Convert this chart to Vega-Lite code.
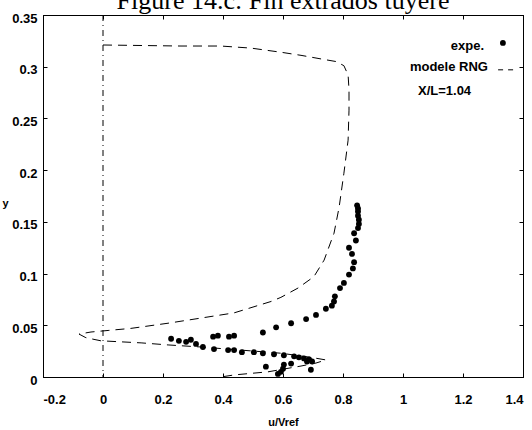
{
  "$schema": "https://vega.github.io/schema/vega-lite/v6.json",
  "width": 480,
  "height": 362,
  "autosize": "none",
  "padding": {"left": 43, "top": 15, "right": 9, "bottom": 53},
  "background": "white",
  "title": {"text": "Figure 14.c: Fin extrados tuyere", "font": "Liberation Serif", "fontSize": 26, "fontWeight": "normal", "color": "black", "anchor": "middle", "frame": "group", "baseline": "alphabetic", "offset": 0, "dy": 23},
  "config": {
    "view": {"stroke": "black", "strokeWidth": 1},
    "axis": {"grid": false, "domainColor": "black", "tickColor": "black", "labelColor": "black", "titleColor": "black", "labelFont": "Liberation Sans", "labelFontWeight": "bold", "labelFontSize": 13, "titleFont": "Liberation Sans", "titleFontWeight": "bold", "titleFontSize": 11}
  },
  "datasets": {
    "expe": [
      {"u": 0.847, "y": 0.166}, {"u": 0.85, "y": 0.163}, {"u": 0.85, "y": 0.160}, {"u": 0.85, "y": 0.156},
      {"u": 0.853, "y": 0.152}, {"u": 0.853, "y": 0.148}, {"u": 0.85, "y": 0.144}, {"u": 0.837, "y": 0.139},
      {"u": 0.843, "y": 0.132}, {"u": 0.82, "y": 0.125}, {"u": 0.83, "y": 0.119}, {"u": 0.837, "y": 0.111},
      {"u": 0.833, "y": 0.105}, {"u": 0.82, "y": 0.099}, {"u": 0.803, "y": 0.091}, {"u": 0.79, "y": 0.086},
      {"u": 0.773, "y": 0.078}, {"u": 0.77, "y": 0.073}, {"u": 0.763, "y": 0.069}, {"u": 0.743, "y": 0.066},
      {"u": 0.71, "y": 0.060}, {"u": 0.677, "y": 0.056}, {"u": 0.627, "y": 0.052}, {"u": 0.577, "y": 0.048},
      {"u": 0.533, "y": 0.043}, {"u": 0.367, "y": 0.039}, {"u": 0.383, "y": 0.040}, {"u": 0.42, "y": 0.039},
      {"u": 0.437, "y": 0.040}, {"u": 0.227, "y": 0.037}, {"u": 0.253, "y": 0.035}, {"u": 0.277, "y": 0.034},
      {"u": 0.293, "y": 0.036}, {"u": 0.31, "y": 0.032}, {"u": 0.333, "y": 0.029}, {"u": 0.37, "y": 0.027},
      {"u": 0.417, "y": 0.026}, {"u": 0.437, "y": 0.026}, {"u": 0.463, "y": 0.024}, {"u": 0.503, "y": 0.024},
      {"u": 0.533, "y": 0.023}, {"u": 0.57, "y": 0.022}, {"u": 0.603, "y": 0.021}, {"u": 0.637, "y": 0.020},
      {"u": 0.653, "y": 0.019}, {"u": 0.67, "y": 0.018}, {"u": 0.687, "y": 0.017}, {"u": 0.697, "y": 0.015},
      {"u": 0.68, "y": 0.015}, {"u": 0.543, "y": 0.010}, {"u": 0.603, "y": 0.012}, {"u": 0.627, "y": 0.013},
      {"u": 0.693, "y": 0.007}, {"u": 0.593, "y": 0.005}, {"u": 0.583, "y": 0.003}, {"u": 0.6, "y": 0.008}
    ],
    "model": [
      {"i": 1, "u": 0.0, "y": 0.321}, {"i": 2, "u": 0.26, "y": 0.320}, {"i": 3, "u": 0.393, "y": 0.320},
      {"i": 4, "u": 0.493, "y": 0.318}, {"i": 5, "u": 0.593, "y": 0.314}, {"i": 6, "u": 0.66, "y": 0.311},
      {"i": 7, "u": 0.727, "y": 0.3075}, {"i": 8, "u": 0.777, "y": 0.305}, {"i": 9, "u": 0.803, "y": 0.301},
      {"i": 10, "u": 0.817, "y": 0.292}, {"i": 11, "u": 0.82, "y": 0.278}, {"i": 12, "u": 0.82, "y": 0.258},
      {"i": 13, "u": 0.817, "y": 0.229}, {"i": 14, "u": 0.803, "y": 0.197}, {"i": 15, "u": 0.787, "y": 0.164},
      {"i": 16, "u": 0.77, "y": 0.139}, {"i": 17, "u": 0.737, "y": 0.113}, {"i": 18, "u": 0.703, "y": 0.097},
      {"i": 19, "u": 0.65, "y": 0.086}, {"i": 20, "u": 0.593, "y": 0.077}, {"i": 21, "u": 0.56, "y": 0.073},
      {"i": 22, "u": 0.437, "y": 0.062}, {"i": 23, "u": 0.327, "y": 0.057}, {"i": 24, "u": 0.217, "y": 0.052},
      {"i": 25, "u": 0.093, "y": 0.047}, {"i": 26, "u": 0.017, "y": 0.045}, {"i": 27, "u": -0.04, "y": 0.0435},
      {"i": 28, "u": -0.08, "y": 0.0415}, {"i": 29, "u": -0.057, "y": 0.038}, {"i": 30, "u": -0.007, "y": 0.035},
      {"i": 31, "u": 0.127, "y": 0.033}, {"i": 32, "u": 0.217, "y": 0.031}, {"i": 33, "u": 0.327, "y": 0.029},
      {"i": 34, "u": 0.46, "y": 0.026}, {"i": 35, "u": 0.593, "y": 0.023}, {"i": 36, "u": 0.693, "y": 0.019},
      {"i": 37, "u": 0.743, "y": 0.0165}, {"i": 38, "u": 0.71, "y": 0.0135}, {"i": 39, "u": 0.66, "y": 0.0106},
      {"i": 40, "u": 0.55, "y": 0.005}, {"i": 41, "u": 0.437, "y": 0.002}, {"i": 42, "u": 0.393, "y": 0.0}
    ],
    "zero": [{"u": 0}],
    "labels": [
      {"u": 1.27, "y": 0.320, "t": "expe."},
      {"u": 1.283, "y": 0.300, "t": "modele RNG"},
      {"u": 1.227, "y": 0.277, "t": "X/L=1.04"}
    ],
    "keydot": [{"u": 1.333, "y": 0.323}],
    "keyline": [{"u": 1.317, "y": 0.297}, {"u": 1.37, "y": 0.297}]
  },
  "resolve": {"axis": {"x": "independent", "y": "independent"}},
  "layer": [
    {
      "data": {"name": "expe"},
      "mark": {"type": "circle", "color": "black", "opacity": 1, "size": 34},
      "encoding": {
        "x": {"field": "u", "type": "quantitative", "scale": {"domain": [-0.2, 1.4], "nice": false, "zero": false},
          "axis": {"orient": "bottom", "title": "u/Vref", "values": [-0.2, 0, 0.2, 0.4, 0.6, 0.8, 1, 1.2, 1.4], "format": ".1~f", "labelExpr": "replace(datum.label, '\u2212', '-')", "tickSize": -4, "labelPadding": 20, "titleY": 45, "titleBaseline": "middle"}},
        "y": {"field": "y", "type": "quantitative", "scale": {"domain": [0, 0.35], "nice": false},
          "axis": {"orient": "left", "title": "y", "values": [0, 0.05, 0.1, 0.15, 0.2, 0.25, 0.3, 0.35], "format": ".2~f", "tickSize": -4, "labelPadding": 10, "labelOffset": 3, "titleAngle": 0, "titleX": -38, "titleY": 188, "titleAlign": "center", "titleBaseline": "middle"}}
      }
    },
    {
      "data": {"name": "model"},
      "mark": {"type": "line", "color": "black", "strokeWidth": 1, "strokeDash": [9, 6]},
      "encoding": {
        "x": {"field": "u", "type": "quantitative", "axis": {"orient": "top", "title": null, "labels": false, "values": [-0.2, 0, 0.2, 0.4, 0.6, 0.8, 1, 1.2, 1.4], "tickSize": -4}},
        "y": {"field": "y", "type": "quantitative", "axis": {"orient": "right", "title": null, "labels": false, "values": [0, 0.05, 0.1, 0.15, 0.2, 0.25, 0.3, 0.35], "tickSize": -4}},
        "order": {"field": "i", "type": "quantitative"}
      }
    },
    {
      "data": {"name": "zero"},
      "mark": {"type": "rule", "color": "black", "strokeWidth": 1, "strokeDash": [6, 4, 1, 4]},
      "encoding": {"x": {"field": "u", "type": "quantitative", "axis": null}}
    },
    {
      "data": {"name": "labels"},
      "mark": {"type": "text", "align": "right", "baseline": "middle", "font": "Liberation Sans", "fontWeight": "bold", "fontSize": 13, "color": "black"},
      "encoding": {
        "x": {"field": "u", "type": "quantitative", "axis": null},
        "y": {"field": "y", "type": "quantitative", "axis": null},
        "text": {"field": "t"}
      }
    },
    {
      "data": {"name": "keydot"},
      "mark": {"type": "circle", "color": "black", "opacity": 1, "size": 34},
      "encoding": {
        "x": {"field": "u", "type": "quantitative", "axis": null},
        "y": {"field": "y", "type": "quantitative", "axis": null}
      }
    },
    {
      "data": {"name": "keyline"},
      "mark": {"type": "line", "color": "black", "strokeWidth": 1, "strokeDash": [5, 5]},
      "encoding": {
        "x": {"field": "u", "type": "quantitative", "axis": null},
        "y": {"field": "y", "type": "quantitative", "axis": null}
      }
    }
  ]
}
